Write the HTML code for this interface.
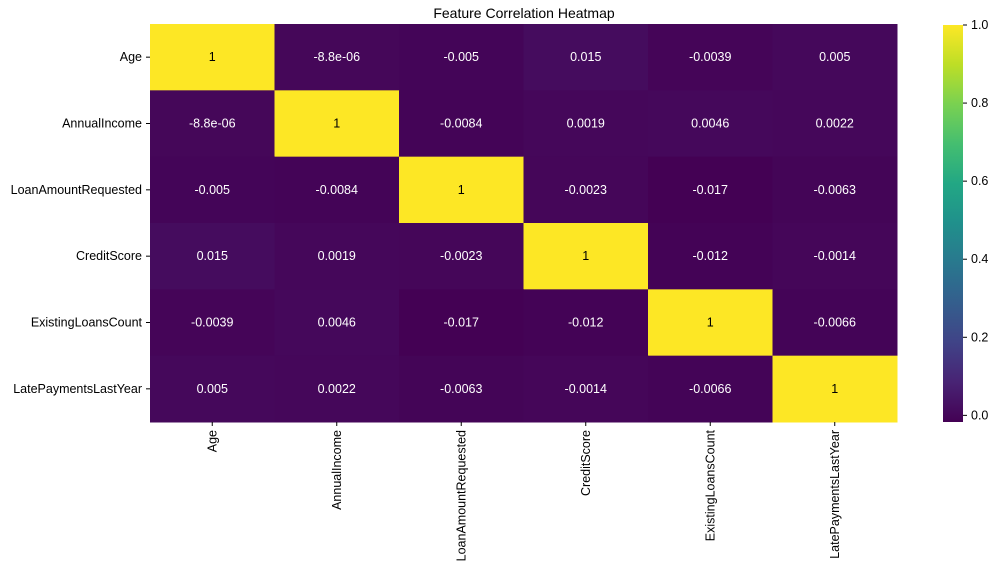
<!DOCTYPE html>
<html><head><meta charset="utf-8"><style>
body{margin:0;background:#fff;}
svg{display:block;font-family:"Liberation Sans","DejaVu Sans",sans-serif;}
</style></head><body>
<svg id="chart" width="1000" height="576" viewBox="0 0 1000 576">
<text x="524" y="18" text-anchor="middle" font-size="14" fill="#000">Feature Correlation Heatmap</text>
<g id="cells"></g><g id="ylabels"></g><g id="xlabels"></g>
<defs><linearGradient id="vgrad" x1="0" y1="1" x2="0" y2="0"></linearGradient></defs>
<rect x="943" y="25" width="20" height="397" fill="url(#vgrad)"/>
<g id="cbticks"></g>
</svg>
<script>
const labels=["Age","AnnualIncome","LoanAmountRequested","CreditScore","ExistingLoansCount","LatePaymentsLastYear"];
const row0=[1,-8.8e-6,-0.005,0.015,-0.0039,0.005];
const row1=[-8.8e-6,1,-0.0084,0.0019,0.0046,0.0022];
const row2=[-0.005,-0.0084,1,-0.0023,-0.017,-0.0063];
const row3=[0.015,0.0019,-0.0023,1,-0.012,-0.0014];
const row4=[-0.0039,0.0046,-0.017,-0.012,1,-0.0066];
const row5=[0.005,0.0022,-0.0063,-0.0014,-0.0066,1];
const rows=[row0,row1,row2,row3,row4,row5];
const printed=[["1","-8.8e-06","-0.005","0.015","-0.0039","0.005"],["-8.8e-06","1","-0.0084","0.0019","0.0046","0.0022"],["-0.005","-0.0084","1","-0.0023","-0.017","-0.0063"],["0.015","0.0019","-0.0023","1","-0.012","-0.0014"],["-0.0039","0.0046","-0.017","-0.012","1","-0.0066"],["0.005","0.0022","-0.0063","-0.0014","-0.0066","1"]];
const cbTicks=[0,0.2,0.4,0.6,0.8,1.0];
const vmin=-0.017,vmax=1;
const V=[[68,1,84],[72,35,116],[64,67,135],[52,94,141],[41,120,142],[32,144,140],[34,167,132],[68,190,112],[121,209,81],[189,222,38],[253,231,37]];
function cmap(v){let t=(v-vmin)/(vmax-vmin);t=Math.max(0,Math.min(1,t));const p=t*10,i=Math.min(9,Math.floor(p)),f=p-i;
const c=V[i].map((a,k)=>Math.round(a+(V[i+1][k]-a)*f));return `rgb(${c})`;}
const X0=150,X1=897,Y0=24,Y1=422,n=labels.length,cw=(X1-X0)/n,ch=(Y1-Y0)/n;
const xs=i=>X0+i*cw, ys=j=>Y0+j*ch;
const NS="http://www.w3.org/2000/svg";
function mk(t,a,p){const e=document.createElementNS(NS,t);for(const k in a)e.setAttribute(k,a[k]);p.appendChild(e);return e;}
const cells=document.getElementById('cells');
rows.forEach((r,j)=>r.forEach((v,i)=>{
const rc=mk('rect',{x:xs(i),y:ys(j),width:cw+0.5,height:ch+0.5,fill:cmap(v)},cells);


const t=mk('text',{x:xs(i)+cw/2,y:ys(j)+ch/2+4,'text-anchor':'middle','font-size':12.5,fill:v>0.5?'#000':'#fff'},cells);
t.textContent=printed[j][i];


}));
const yl=document.getElementById('ylabels'),xl=document.getElementById('xlabels');
labels.forEach((l,j)=>{
mk('line',{x1:X0-4,x2:X0,y1:ys(j)+ch/2,y2:ys(j)+ch/2,stroke:'#000'},yl);
const t=mk('text',{x:X0-8,y:ys(j)+ch/2+4,'text-anchor':'end','font-size':12.5},yl);t.textContent=l;


const cx=xs(j)+cw/2;
mk('line',{x1:cx,x2:cx,y1:Y1,y2:Y1+4,stroke:'#000'},xl);
const u=mk('text',{x:cx+4,y:Y1+8,'text-anchor':'end','font-size':12.5,transform:`rotate(-90 ${cx+4} ${Y1+8})`},xl);u.textContent=l;


});
const g=document.getElementById('vgrad');
for(let k=0;k<=20;k++){const v=vmin+(vmax-vmin)*k/20;mk('stop',{offset:(k/20),'stop-color':cmap(v)},g);}
const cb=document.getElementById('cbticks');
const cy=v=>422-(v-vmin)/(vmax-vmin)*397;
cbTicks.forEach(v=>{mk('line',{x1:963,x2:967,y1:cy(v),y2:cy(v),stroke:'#000'},cb);
const t=mk('text',{x:971,y:cy(v)+4,'font-size':12.5},cb);t.textContent=v.toFixed(1);

});
</script>
</body></html>
